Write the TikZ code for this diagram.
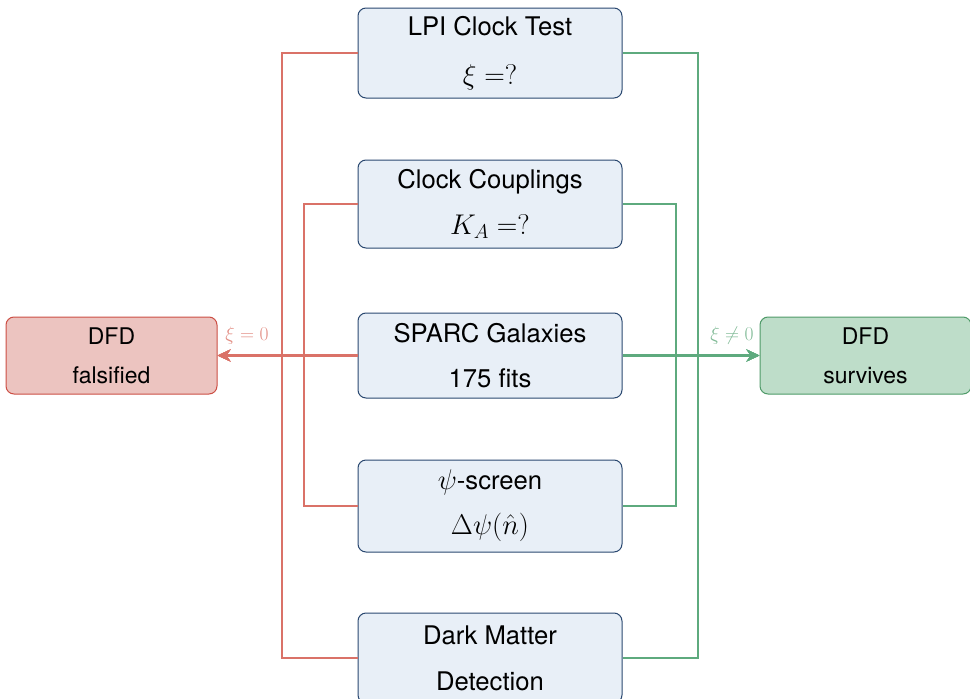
\RequirePackage{fix-cm}
\documentclass[tikz,border=0pt]{standalone}
\usepackage{fontspec}
\setmainfont[Scale=0.9]{TeX Gyre Heros}
\usetikzlibrary{arrows.meta}

\definecolor{testfill}{RGB}{232,239,247}
\definecolor{testborder}{RGB}{42,72,112}
\definecolor{failfill}{RGB}{236,196,192}
\definecolor{failborder}{RGB}{204,78,68}
\definecolor{passfill}{RGB}{190,221,201}
\definecolor{passborder}{RGB}{78,154,104}
\definecolor{failline}{RGB}{218,114,104}
\definecolor{passline}{RGB}{94,170,126}
\definecolor{faillabel}{RGB}{226,142,132}
\definecolor{passlabel}{RGB}{128,186,150}

\begin{document}
\begin{tikzpicture}[x=1pt,y=-1pt,
  testbox/.style={draw=testborder, fill=testfill, rounded corners=8pt,
    line width=1pt, minimum width=264pt, minimum height=90pt,
    align=center, inner sep=0pt, font=\fontsize{28.5}{30}\selectfont},
  outbox/.style={rounded corners=8pt, line width=1pt,
    minimum width=211pt, minimum height=77pt,
    align=center, inner sep=0pt, font=\fontsize{25.5}{28}\selectfont},
  tofail/.style={draw=failline, line width=2pt,
    -{Stealth[length=13pt,width=12pt]}},
  topass/.style={draw=passline, line width=2pt,
    -{Stealth[length=13pt,width=12pt]}},
  edgelbl/.style={inner sep=0pt, font=\fontsize{19.5}{22}\selectfont}]
\useasboundingbox (0,0) rectangle (970,699);

% the five tests
\node[testbox] (lpi) at (490,53) {LPI Clock Test\\[19pt]$\xi=?$};
\node[testbox, minimum height=88pt] (clock) at (490,204) {Clock Couplings\\[16pt]$K_A=?$};
\node[testbox, minimum height=85pt] (sparc) at (490,355.5) {SPARC Galaxies\\[15pt]175 fits};
\node[testbox, minimum height=92pt] (screen) at (490,506) {$\psi$-screen\\[15pt]$\Delta\psi(\hat n)$};
\node[testbox] (dm) at (490,658) {Dark Matter\\[16pt]Detection};

% the two outcomes
\node[outbox, draw=failborder, fill=failfill] (fail) at (111.5,355.5) {DFD\\[11pt]falsified};
\node[outbox, draw=passborder, fill=passfill] (pass) at (865.5,355.5) {DFD\\[11pt]survives};

% routes to "falsified"
\draw[tofail] (lpi.west) -- ++(-76,0) |- (fail.east);
\draw[tofail] (dm.west) -- ++(-76,0) |- (fail.east);
\draw[tofail] (clock.west) -- ++(-54,0) |- (fail.east);
\draw[tofail] (screen.west) -- ++(-54,0) |- (fail.east);
\draw[tofail, line width=3pt] (sparc.west) -- (fail.east);

% routes to "survives"
\draw[topass] (lpi.east) -- ++(75,0) |- (pass.west);
\draw[topass] (dm.east) -- ++(75,0) |- (pass.west);
\draw[topass] (clock.east) -- ++(53,0) |- (pass.west);
\draw[topass] (screen.east) -- ++(53,0) |- (pass.west);
\draw[topass, line width=3pt] (sparc.east) -- (pass.west);

% outcome labels
\node[edgelbl, text=faillabel] (xizero) at (247,336) {$\xi=0$};
\node[edgelbl, text=passlabel] (xinonzero) at (732,336) {$\xi\neq0$};
\end{tikzpicture}
\end{document}
